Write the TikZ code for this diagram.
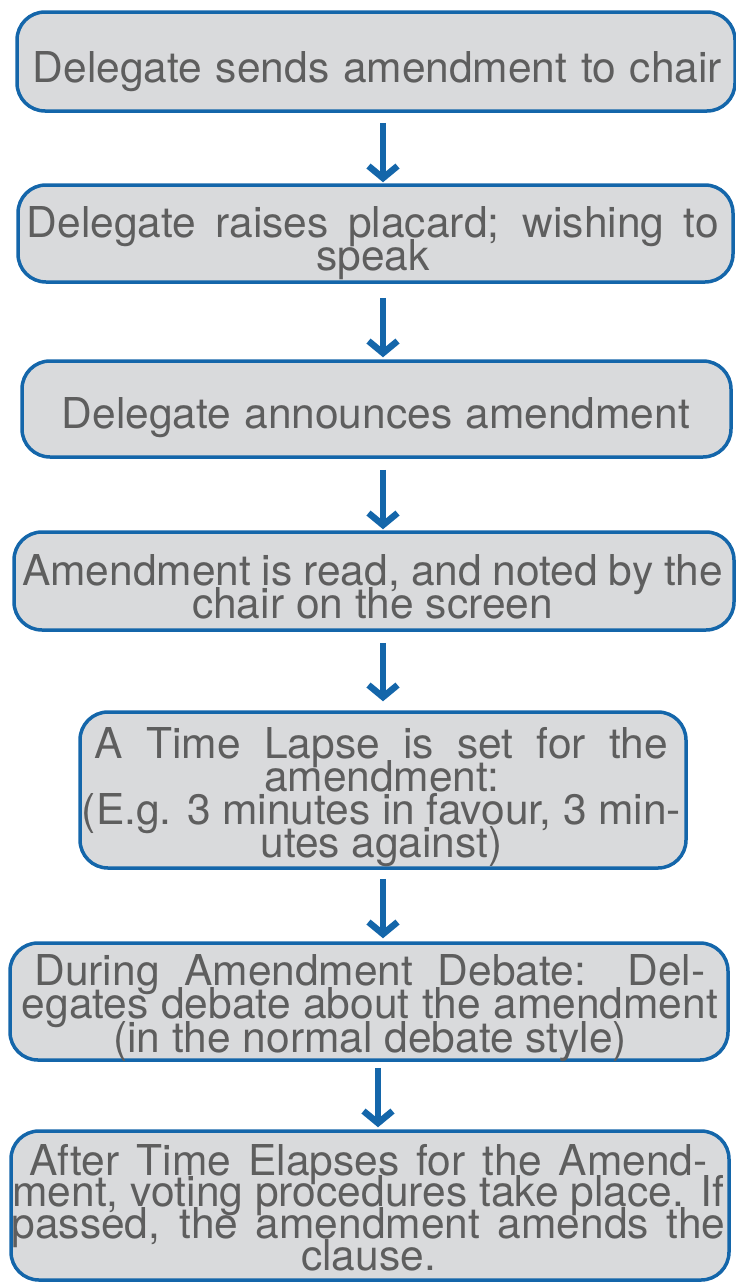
\documentclass[tikz,border=0pt]{standalone}
\usepackage{fontspec}
\setmainfont{TeX Gyre Heros}
\usetikzlibrary{arrows.meta}
\definecolor{bblue}{HTML}{1466AA}
\definecolor{bfill}{HTML}{D9DADC}
\definecolor{tgray}{HTML}{5E5E5E}
\newcommand{\jl}[2]{\hbox to\hsize{\hfil\makebox[#1pt][s]{#2}\hfil}}
\newcommand{\cl}[1]{\hbox to\hsize{\hfil #1\hfil}}
\newcommand{\lines}[2][33.5]{\vtop{\hsize=760pt\baselineskip=#1pt\lineskiplimit=-100pt\lineskip=0pt #2}}
\begin{document}
\begin{tikzpicture}[x=1pt,y=-1pt,
  box/.style={draw=bblue, line width=3.5pt, fill=bfill, rounded corners=28pt, inner sep=0pt},
  txt/.style={anchor=base, inner sep=0pt, text=tgray, font=\fontsize{42.5}{33.5}\selectfont},
  arr/.style={draw=bblue, line width=6.5pt, -{Straight Barb[length=12pt,width=29pt]}}]
\useasboundingbox (0,0) rectangle (736,1282);

\node[box, minimum width=718pt, minimum height=99pt] (b1) at (376,61.5) {};
\node[box, minimum width=715pt, minimum height=97pt] (b2) at (375.5,233.5) {};
\node[box, minimum width=709pt, minimum height=96pt] (b3) at (376.5,409) {};
\node[box, minimum width=720pt, minimum height=98pt] (b4) at (374,581) {};
\node[box, minimum width=606pt, minimum height=156pt] (b5) at (383,790) {};
\node[box, minimum width=718pt, minimum height=117pt] (b6) at (369,1001.5) {};
\node[box, minimum width=718pt, minimum height=149pt] (b7) at (370,1205.5) {};

\node[txt] (t1) at (377.5,82) {\lines{\jl{689}{Delegate sends amendment to chair}}};
\node[txt] (t2) at (373,237) {\lines{\jl{692}{Delegate raises placard; wishing to}\cl{speak}}};
\node[txt] (t3) at (376,428) {\lines{\jl{628}{Delegate announces amendment}}};
\node[txt] (t4) at (372.5,585) {\lines{\jl{701}{Amendment is read, and noted by the}\cl{chair on the screen}}};
\node[txt] (t5) at (381.5,758) {\lines[33.3]{\jl{573}{A Time Lapse is set for the}\cl{amendment:}\jl{599}{(E.g. 3 minutes in favour, 3 min-}\cl{utes against)}}};
\node[txt] (t6) at (370,985) {\lines[33.5]{\jl{671}{During Amendment Debate: Del-}\jl{696}{egates debate about the amendment}\cl{(in the normal debate style)}}};
\node[txt] (t7) at (368.5,1175) {\lines[31.7]{\jl{678}{After Time Elapses for the Amend-}\jl{712}{ment, voting procedures take place. If}\jl{714}{passed, the amendment amends the}\cl{clause.}}};

\coordinate (ax) at (383,0);
\coordinate (ay) at (378,0);
\draw[arr, shorten <=10pt, shorten >=1pt] (b1.south -| ax) -- (b2.north -| ax);
\draw[arr, shorten <=14pt, shorten >=2pt] (b2.south -| ax) -- (b3.north -| ax);
\draw[arr, shorten <=11pt, shorten >=1pt] (b3.south -| ax) -- (b4.north -| ax);
\draw[arr, shorten <=11pt, shorten >=9pt] (b4.south -| ax) -- (b5.north -| ax);
\draw[arr, shorten <=9pt, shorten >=3pt] (b5.south -| ax) -- (b6.north -| ax);
\draw[arr, shorten <=6pt, shorten >=2pt] (b6.south -| ay) -- (b7.north -| ay);
\end{tikzpicture}
\end{document}
